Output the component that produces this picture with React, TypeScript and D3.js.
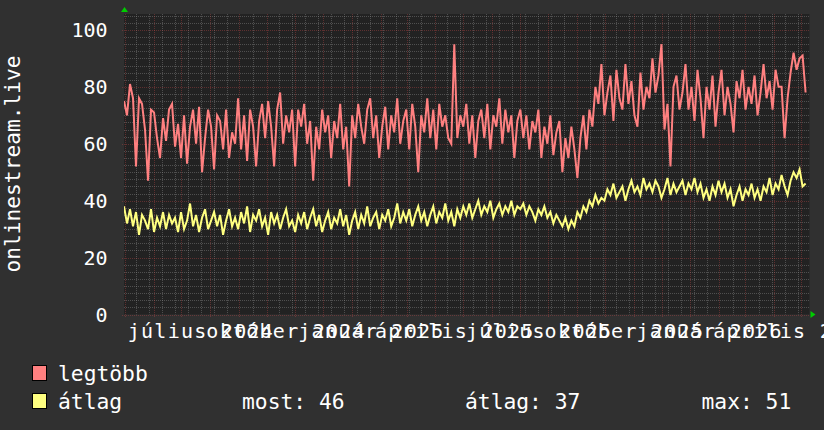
import React from 'react';
import * as d3 from 'd3';

const W = 824;
const H = 430;
const PL = 124;
const PR = 809.5;
const PT = 14;
const PB = 314.5;

const DAY = 86400000;
// time window of the chart
const START = new Date(Date.UTC(2024, 3, 30, 0));
const END = new Date(START.getTime() + 739.7 * DAY);
const STEP_DAYS = 3.24;
const LABEL_SHIFT_DAYS = 21;

// legtöbb (max) series
const legtobb = [
  75, 70, 81, 76, 52, 76, 74, 65, 47, 72, 71, 62, 55, 69, 61, 72, 74, 59, 67,
  55, 70, 53, 66, 72, 60, 73, 50, 62, 72, 66, 51, 70, 68, 58, 72, 55, 64, 60,
  76, 58, 70, 54, 72, 66, 52, 68, 74, 62, 75, 66, 52, 72, 78, 60, 70, 64, 72,
  52, 72, 66, 74, 60, 68, 47, 66, 58, 72, 64, 70, 55, 68, 62, 74, 58, 66, 45,
  70, 62, 74, 66, 60, 72, 76, 62, 70, 55, 66, 73, 58, 70, 64, 76, 60, 68, 72,
  58, 74, 66, 50, 70, 64, 76, 62, 72, 58, 74, 66, 70, 62, 60, 95, 62, 70, 66,
  74, 60, 70, 55, 68, 72, 62, 74, 58, 70, 66, 76, 60, 72, 64, 70, 55, 68, 72,
  62, 70, 58, 68, 64, 72, 55, 66, 60, 70, 56, 64, 68, 50, 62, 55, 66, 58, 48,
  62, 70, 58, 72, 66, 80, 74, 88, 70, 78, 84, 68, 86, 76, 72, 88, 74, 82, 70,
  66, 85, 72, 80, 76, 90, 78, 84, 95, 65, 74, 52, 80, 84, 72, 78, 88, 72, 80,
  68, 86, 76, 62, 80, 72, 84, 66, 78, 86, 70, 80, 74, 64, 82, 76, 86, 72, 80,
  74, 84, 70, 78, 88, 76, 82, 72, 86, 80, 80, 62, 76, 85, 92, 86, 90, 91, 78,
];

// átlag (average) series
const atlag = [
  38, 32, 37, 31, 36, 28, 35, 33, 30, 37, 29, 34, 31, 36, 30, 35, 32, 34, 29,
  36, 30, 33, 39, 31, 35, 29, 34, 37, 30, 33, 36, 31, 35, 28, 33, 37, 31, 34,
  30, 36, 32, 38, 29, 35, 33, 37, 31, 34, 28, 36, 32, 35, 30, 34, 37, 31, 33,
  29, 35, 32, 36, 30, 34, 37, 31, 35, 29, 33, 36, 30, 34, 32, 37, 31, 35, 28,
  33, 36, 30, 35, 32, 38, 31, 34, 36, 30, 35, 33, 37, 31, 34, 39, 32, 36, 33,
  37, 31, 35, 38, 33, 36, 31, 35, 38, 32, 36, 34, 39, 33, 36, 31, 37, 34, 38,
  35, 39, 34, 37, 40, 35, 38, 36, 40, 34, 37, 39, 35, 38, 36, 40, 35, 38, 37,
  39, 35, 38, 36, 33, 37, 35, 38, 34, 36, 32, 35, 33, 31, 34, 30, 33, 31, 36,
  34, 38, 36, 40, 38, 42, 39, 41, 40, 44, 42, 46, 41, 43, 45, 40, 44, 47, 43,
  45, 42, 48, 44, 46, 43, 47, 45, 41, 44, 48, 42, 46, 43, 45, 47, 42, 46, 44,
  48, 43, 46, 41, 44, 40, 45, 42, 47, 43, 46, 41, 44, 38, 42, 45, 40, 44, 42,
  46, 41, 44, 40, 45, 43, 48, 42, 46, 44, 49, 45, 42, 47, 50, 48, 51, 45, 46,
];

const yTicks = [0, 20, 40, 60, 80, 100];
const monthNames = [
  'január', 'február', 'március', 'április', 'május', 'június',
  'július', 'augusztus', 'szeptember', 'október', 'november', 'december',
];
const axisTitle = 'onlinestream.live';
const series = [
  { name: 'legtöbb', color: '#ff8080', values: legtobb },
  { name: 'átlag', color: '#ffff80', values: atlag },
];
const stats = [
  { text: 'most: 46', x: 242 },
  { text: 'átlag: 37', x: 465 },
  { text: 'max: 51', x: 701.5 },
];

const FONT = '"DejaVu Sans Mono", monospace';

export default function App() {
  const x = d3.scaleUtc().domain([START, END]).range([PL, PR]);
  const y = d3.scaleLinear().domain([0, 105.6]).range([PB, PT]);
  const dateAt = (i: number) => new Date(START.getTime() + i * STEP_DAYS * DAY);

  const line = d3
    .line<number>()
    .x((_, i) => x(dateAt(i)))
    .y((d) => y(d));

  const px = (v: number) => Math.round(v) + 0.5;
  const majorX = d3.utcMonth.range(START, END);
  const majorXpx = majorX.map((d) => px(x(d)));
  const minorX = d3.utcMonday
    .range(d3.utcMonday.floor(START), END)
    .filter((_, i) => i % 2 === 0)
    .map((d) => px(x(d)))
    .filter((p) => p >= PL && !majorXpx.some((m) => Math.abs(m - p) < 1.5));
  const labelMonths = d3.utcMonth.every(3)!.range(START, END);

  const minorY = d3.range(0, 105.6, 2.5).filter((v) => v % 20 !== 0);
  const majorY = d3.range(0, 105.6, 20);

  return (
    <svg
      width={W}
      height={H}
      style={{ position: 'absolute', left: 0, top: 0, background: '#303030' }}
    >
      <rect x={0} y={0} width={W} height={H} fill="#303030" />
      <rect x={PL} y={PT} width={PR - PL} height={PB - PT} fill="#222222" />
      <defs>
        <clipPath id="plot">
          <rect x={PL} y={PT} width={PR - PL} height={PB - PT + 1} />
        </clipPath>
      </defs>
      {/* minor grid */}
      <g stroke="rgba(143,143,143,0.42)" strokeWidth={1} strokeDasharray="1,1">
        {minorX.map((p, i) => (
          <line key={'mx' + i} x1={p} x2={p} y1={PT} y2={PB} />
        ))}
        {minorY.map((v, i) => (
          <line key={'my' + i} x1={PL} x2={PR} y1={px(y(v))} y2={px(y(v))} />
        ))}
      </g>
      {/* major grid */}
      <g stroke="rgba(222,79,79,0.32)" strokeWidth={1} strokeDasharray="1,1">
        {majorXpx.map((p, i) => (
          <line key={'Mx' + i} x1={p} x2={p} y1={PT} y2={PB + 3} />
        ))}
        {majorY.map((v, i) => (
          <line key={'My' + i} x1={PL - 2} x2={PR} y1={px(y(v))} y2={px(y(v))} />
        ))}
      </g>
      {/* series */}
      <g clipPath="url(#plot)" fill="none" strokeWidth={2}>
        {series.map((s) => (
          <path key={s.name} d={line(s.values) || ''} stroke={s.color} />
        ))}
      </g>
      {/* arrows */}
      <path d={`M${PL - 3},${PT - 2} L${PL + 4},${PT - 2} L${PL + 0.5},${PT - 7} Z`} fill="#00cc00" />
      <path d={`M${PR + 1},${PB - 3.5} L${PR + 1},${PB + 3.5} L${PR + 6},${PB} Z`} fill="#00cc00" />
      {/* y labels */}
      <g fill="#ffffff" fontFamily={FONT} fontSize={20} textAnchor="end">
        {yTicks.map((v) => (
          <text key={v} x={107.5} y={y(v) + 7.3}>
            {v}
          </text>
        ))}
      </g>
      {/* x labels */}
      <g fill="#ffffff" fontFamily={FONT} fontSize={20} letterSpacing={1.26} textAnchor="middle">
        {labelMonths.map((d, i) => (
          <text key={i} x={x(d3.utcDay.offset(d, LABEL_SHIFT_DAYS))} y={338}>
            {monthNames[d.getUTCMonth()] + ' ' + d.getUTCFullYear()}
          </text>
        ))}
      </g>
      {/* axis title */}
      <text
        transform={`translate(19.5, 164) rotate(-90)`}
        fill="#ffffff"
        fontFamily={FONT}
        fontSize={21.2}
        textAnchor="middle"
      >
        {axisTitle}
      </text>
      {/* legend */}
      <g fontFamily={FONT} fontSize={21.3} fill="#ffffff">
        {series.map((s, i) => (
          <g key={s.name}>
            <rect x={32.5} y={365.5 + i * 28} width={14} height={15} fill={s.color} stroke="#000" strokeWidth={1} />
            <text x={58} y={381 + i * 28}>
              {s.name}
            </text>
          </g>
        ))}
        {stats.map((s) => (
          <text key={s.text} x={s.x} y={409}>
            {s.text}
          </text>
        ))}
      </g>
    </svg>
  );
}
